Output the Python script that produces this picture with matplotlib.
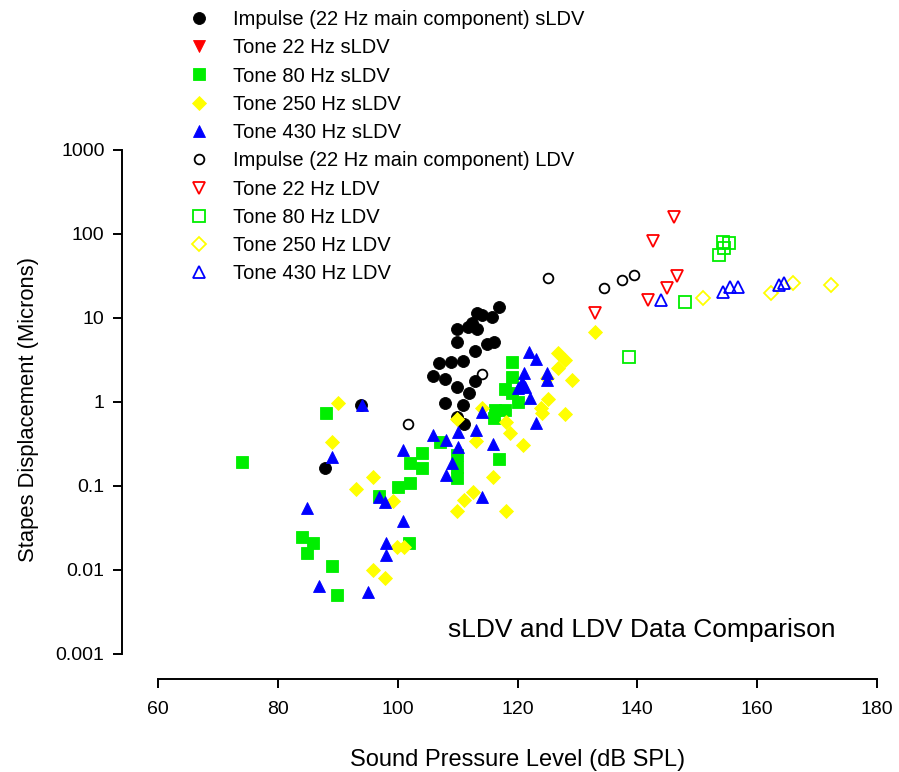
import matplotlib
matplotlib.use("Agg")
import matplotlib.pyplot as plt

plt.rcParams['font.family'] = ['Liberation Sans', 'DejaVu Sans']

# Impulse (22 Hz main component), sLDV
imp_sldv_x = [87.9, 93.9, 116.9, 115.8, 113.3, 114.1, 112.4, 111.8, 113.3, 109.9,
              109.9, 114.9, 116.1, 112.9, 106.9, 108.9, 110.9, 105.9, 107.9, 112.9,
              109.9, 111.9, 107.9, 110.9, 109.9, 111.1]
imp_sldv_y = [0.166, 0.93, 13.6, 10.3, 11.5, 10.9, 8.8, 7.9, 7.4, 7.4,
              5.2, 4.9, 5.2, 4.07, 2.93, 3.0, 3.1, 2.05, 1.89, 1.79,
              1.52, 1.29, 0.98, 0.93, 0.67, 0.54]

# Tone 22 Hz, sLDV (no points recorded)
tone22_sldv_x = []
tone22_sldv_y = []

# Tone 80 Hz, sLDV
tone80_sldv_x = [74.0, 88.0, 84.0, 85.9, 84.9, 89.0, 89.9, 96.9, 100.1, 102.1,
                 102.1, 104.1, 104.1, 101.9, 107.1, 109.9, 109.9, 109.9, 116.9, 119.1,
                 119.1, 117.9, 119.1, 120.1, 116.3, 117.9, 116.1]
tone80_sldv_y = [0.195, 0.73, 0.025, 0.0212, 0.0161, 0.0113, 0.0051, 0.075, 0.096, 0.11,
                 0.19, 0.249, 0.166, 0.0212, 0.33, 0.236, 0.17, 0.125, 0.21, 3.0,
                 2.0, 1.44, 1.29, 1.01, 0.81, 0.81, 0.65]

# Tone 250 Hz, sLDV
tone250_sldv_x = [90.0, 89.0, 95.9, 93.1, 99.2, 95.9, 97.9, 99.9, 101.1, 109.9,
                  114.1, 113.1, 115.9, 111.0, 112.6, 109.9, 118.1, 120.9, 118.1, 118.8,
                  123.9, 124.1, 125.1, 127.9, 126.8, 128.0, 126.8, 129.1, 124.9, 133.0]
tone250_sldv_y = [0.98, 0.33, 0.129, 0.091, 0.066, 0.0101, 0.0081, 0.019, 0.019, 0.63,
                  0.85, 0.34, 0.129, 0.069, 0.084, 0.050, 0.051, 0.31, 0.58, 0.43,
                  0.86, 0.74, 1.09, 0.71, 3.86, 3.18, 2.56, 1.84, 1.95, 6.85]

# Tone 430 Hz, sLDV
tone430_sldv_x = [94.1, 89.0, 84.9, 96.9, 97.9, 86.9, 95.1, 98.1, 98.1, 100.9,
                  100.9, 105.9, 108.1, 110.1, 110.1, 109.1, 108.1, 113.1, 114.1, 115.9,
                  114.1, 121.9, 123.1, 121.1, 120.8, 120.1, 121.3, 124.9, 124.9, 122.1,
                  123.1]
tone430_sldv_y = [0.91, 0.22, 0.055, 0.074, 0.065, 0.0064, 0.0054, 0.0207, 0.0149, 0.0388,
                  0.27, 0.40, 0.35, 0.44, 0.294, 0.19, 0.137, 0.465, 0.75, 0.319,
                  0.073, 3.96, 3.27, 2.23, 1.74, 1.48, 1.52, 2.23, 1.84, 1.12,
                  0.57]

# LDV series
imp_ldv_x = [101.7, 114.1, 125.1, 134.5, 137.5, 139.5]
imp_ldv_y = [0.54, 2.17, 30.1, 22.9, 28.5, 32.6]

tone22_ldv_x = [146.1, 142.6, 146.6, 145.0, 141.8, 133.0]
tone22_ldv_y = [160, 82.8, 31.8, 22.9, 16.4, 11.5]

tone80_ldv_x = [154.3, 155.3, 154.5, 153.7, 148.0, 138.6]
tone80_ldv_y = [80.5, 78.4, 68.4, 56.4, 15.6, 3.46]

tone250_ldv_x = [151.0, 162.3, 166.0, 172.4]
tone250_ldv_y = [17.4, 19.9, 26.2, 24.8]

tone430_ldv_x = [144.0, 154.3, 155.5, 156.8, 163.7, 164.5]
tone430_ldv_y = [16.4, 20.5, 23.5, 23.5, 24.8, 26.2]

x_ticks = [60, 80, 100, 120, 140, 160, 180]
y_ticks = [0.001, 0.01, 0.1, 1, 10, 100, 1000]
y_tick_labels = ['0.001', '0.01', '0.1', '1', '10', '100', '1000']

BLACK = '#000000'
RED = '#ff0000'
GREEN = '#00ee00'
YELLOW = '#ffff00'
BLUE = '#0000ff'

W, H = 899, 772
fig = plt.figure(figsize=(W / 100, H / 100), dpi=100)
ax = fig.add_axes([158 / W, 1 - 654 / H, 719 / W, 504 / H])

series = [
    (imp_sldv_x, imp_sldv_y, 'o', BLACK, True, 8.6, 'Impulse (22 Hz main component) sLDV'),
    (tone22_sldv_x, tone22_sldv_y, 'v', RED, True, 8.6, 'Tone 22 Hz sLDV'),
    (tone80_sldv_x, tone80_sldv_y, 's', GREEN, True, 8.3, 'Tone 80 Hz sLDV'),
    (tone250_sldv_x, tone250_sldv_y, 'D', YELLOW, True, 7.6, 'Tone 250 Hz sLDV'),
    (tone430_sldv_x, tone430_sldv_y, '^', BLUE, True, 8.6, 'Tone 430 Hz sLDV'),
    (imp_ldv_x, imp_ldv_y, 'o', BLACK, False, 7.0, 'Impulse (22 Hz main component) LDV'),
    (tone22_ldv_x, tone22_ldv_y, 'v', RED, False, 9.0, 'Tone 22 Hz LDV'),
    (tone80_ldv_x, tone80_ldv_y, 's', GREEN, False, 8.0, 'Tone 80 Hz LDV'),
    (tone250_ldv_x, tone250_ldv_y, 'D', YELLOW, False, 7.4, 'Tone 250 Hz LDV'),
    (tone430_ldv_x, tone430_ldv_y, '^', BLUE, False, 9.0, 'Tone 430 Hz LDV'),
]

handles = []
for xs, ys, mk, col, filled, ms, label in series:
    line, = ax.plot(xs, ys, linestyle='none', marker=mk, markersize=ms,
                    markerfacecolor=col if filled else 'none',
                    markeredgecolor=col, markeredgewidth=0.6 if filled else 1.3,
                    label=label, clip_on=False)
    handles.append(line)

ax.set_yscale('log')
ax.set_xlim(60, 180)
ax.set_ylim(0.001, 1000)
ax.set_xticks(x_ticks)
ax.set_xticklabels([str(v) for v in x_ticks])
ax.set_yticks(y_ticks)
ax.set_yticklabels(y_tick_labels)
ax.minorticks_off()

for side in ('top', 'right'):
    ax.spines[side].set_visible(False)
ax.spines['left'].set_position(('outward', 26))
ax.spines['bottom'].set_position(('outward', 18))
ax.spines['left'].set_bounds(0.001, 1000)
ax.spines['bottom'].set_bounds(60, 180)
for side in ('left', 'bottom'):
    ax.spines[side].set_linewidth(1.4)
ax.tick_params(axis='both', direction='out', length=6.5, width=1.4,
               labelsize=14, pad=6)
ax.tick_params(axis='x', pad=9)

ax.set_xlabel('Sound Pressure Level (dB SPL)', fontsize=17)
ax.set_ylabel('Stapes Displacement (Microns)', fontsize=15.8)
ax.xaxis.set_label_coords(0.5, -0.188)
ax.yaxis.set_label_coords(-0.166, 0.485)

ax.text((448 - 158) / 719, (654 - 630) / 504, 'sLDV and LDV Data Comparison',
        transform=ax.transAxes, fontsize=19, ha='left', va='center')

fig.legend(handles=handles, loc='upper left', bbox_to_anchor=(189 / W, 1 - 10 / H),
           frameon=False, fontsize=14.5, numpoints=1, handlelength=1.0,
           handletextpad=1.19, labelspacing=0.46, borderpad=0, borderaxespad=0)

fig.savefig('out.png', dpi=100)
